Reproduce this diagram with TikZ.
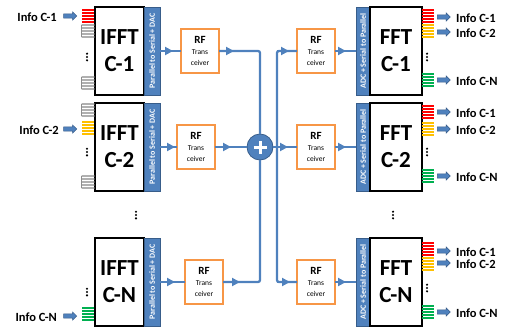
\documentclass[tikz,border=0pt]{standalone}
\usepackage{fontspec}
\setmainfont{Carlito}
\usetikzlibrary{arrows.meta,decorations.markings,shapes.arrows}
\definecolor{blu}{HTML}{4F81BD}
\definecolor{blud}{HTML}{385D8A}
\definecolor{orng}{HTML}{F79646}
\definecolor{redl}{HTML}{FF0000}
\definecolor{yell}{HTML}{FFC000}
\definecolor{grn}{HTML}{00B050}
\definecolor{gryl}{HTML}{B0B0B0}
\newcommand\mystack[4]{%
  \foreach \k in {0,...,4} {\draw[#1, line width=1.3pt] (#2,#4+3*\k) -- (#3,#4+3*\k);}}
\newcommand\mygray[3]{%
  \foreach \k in {0,...,4} {\draw[gryl, line width=1.3pt, line cap=round] (#1,#3+3*\k) -- (#2,#3+3*\k);}
  \draw[gryl!80!black, line width=0.5pt] (#1-0.6,#3) -- (#1-0.6,#3+12);}
\newcommand\mydots[2]{%
  \foreach \k in {-1,0,1} {\fill (#1,#2+3.3*\k) circle (1.2pt);}}
\begin{document}
\begin{tikzpicture}[x=1pt,y=-1pt,
  bigbox/.style={draw=black, line width=1.2pt, fill=white, inner sep=0pt, outer sep=0pt, anchor=north west, align=center, font=\bfseries\fontsize{23}{27}\selectfont},
  stripbox/.style={draw=blud, line width=0.6pt, fill=blu, inner sep=0pt, outer sep=0pt, anchor=north west},
  striptext/.style={rotate=90, text=white, font=\bfseries\fontsize{8}{8}\selectfont, inner sep=0pt},
  rfbox/.style={draw=orng, line width=1.6pt, fill=white, minimum width=38pt, minimum height=44pt, inner sep=0pt, outer sep=0pt, align=center},
  sig/.style={draw=blu, line width=2.3pt, rounded corners=2pt},
  tipat/.style={postaction={decorate}, decoration={markings, mark=at position #1 with {\arrow[blu]{Triangle[length=8pt,width=8pt]}}}},
  barrow/.style={single arrow, draw=blud, fill=blu, line width=0.5pt, minimum height=13pt, inner sep=1.8pt, single arrow head extend=2pt},
  info/.style={font=\bfseries\fontsize{12.5}{14}\selectfont, inner sep=0pt},
  sumnode/.style={circle, fill=blu, draw=blud, line width=0.8pt, minimum size=26pt, inner sep=0pt, outer sep=0pt}
]
\useasboundingbox (0,0) rectangle (508,329);
\newcommand\rftext{{\fontsize{11}{11}\bfseries RF}\\[-1pt]{\fontsize{7.5}{8}\selectfont Trans}\\[-1.5pt]{\fontsize{7.5}{8}\selectfont ceiver}}

% IFFT blocks
\node[bigbox, minimum width=49pt, minimum height=88pt] (i1) at (95,7) {IFFT\\C-1};
\node[stripbox, minimum width=16pt, minimum height=88pt] (s1) at (144,7) {};
\node[striptext] at (s1.center) {Parallel to Serial + DAC};
\node[bigbox, minimum width=49pt, minimum height=88pt] (i2) at (95,103) {IFFT\\C-2};
\node[stripbox, minimum width=16pt, minimum height=88pt] (s2) at (144,103) {};
\node[striptext] at (s2.center) {Parallel to Serial + DAC};
\node[bigbox, minimum width=49pt, minimum height=88pt] (i3) at (95,238) {IFFT\\C-N};
\node[stripbox, minimum width=16pt, minimum height=88pt] (s3) at (144,238) {};
\node[striptext] at (s3.center) {Parallel to Serial + DAC};

% FFT blocks
\node[stripbox, minimum width=14pt, minimum height=88pt] (f1s) at (356,7) {};
\node[striptext] at (f1s.center) {ADC + Serial to Parallel};
\node[bigbox, minimum width=52pt, minimum height=88pt] (f1) at (370,7) {FFT\\C-1};
\node[stripbox, minimum width=14pt, minimum height=88pt] (f2s) at (356,103) {};
\node[striptext] at (f2s.center) {ADC + Serial to Parallel};
\node[bigbox, minimum width=52pt, minimum height=88pt] (f2) at (370,103) {FFT\\C-2};
\node[stripbox, minimum width=14pt, minimum height=88pt] (f3s) at (356,238) {};
\node[striptext] at (f3s.center) {ADC + Serial to Parallel};
\node[bigbox, minimum width=52pt, minimum height=88pt] (f3) at (370,238) {FFT\\C-N};

% RF transceivers
\node[rfbox] (r1) at (200,51) {\rftext};
\node[rfbox] (r2) at (196,147) {\rftext};
\node[rfbox] (r3) at (204,282) {\rftext};
\node[rfbox] (q1) at (316,51) {\rftext};
\node[rfbox] (q2) at (316,147) {\rftext};
\node[rfbox] (q3) at (316,282) {\rftext};

% summing node
\node[sumnode] (sum) at (260,147) {};
\coordinate (bt) at (277,51);
\coordinate (bb) at (277,282);

% left connectors
\draw[sig, tipat=13pt] (s1.east) -- (r1.west);
\draw[sig, tipat=15pt] (r1.east) -| (sum.north);
\draw[sig, tipat=15pt] (s2.east) -- (r2.west);
\draw[sig, tipat=16pt] (r2.east) -- (sum.west);
\draw[sig, tipat=15pt] (s3.east) -- (r3.west);
\draw[sig, tipat=17pt] (r3.east) -| (sum.south);

% right connectors
\draw[sig] (q1.west) -- (bt) -- (bb) -- (q3.west);
\draw[sig, tipat=12pt] (bt) -- (q1.west);
\draw[sig, tipat=15pt] (sum.east) -- (q2.west);
\draw[sig, tipat=13pt] (bb) -- (q3.west);
\draw[sig, tipat=11pt] (q1.east) -- (f1s.west);
\draw[sig, tipat=11pt] (q2.east) -- (f2s.west);
\draw[sig, tipat=11pt] (q3.east) -- (f3s.west);

% plus sign
\draw[white, line width=3pt] ([xshift=-6.5pt]sum.center) -- ([xshift=6.5pt]sum.center);
\draw[white, line width=3pt] ([yshift=-6.5pt]sum.center) -- ([yshift=6.5pt]sum.center);

% left input stacks
\mystack{redl}{82}{94}{10}
\mygray{82}{94}{25}
\mydots{87}{57}
\mygray{82}{94}{77}

\mygray{82}{94}{104}
\mystack{yell}{82}{94}{122}
\mydots{87}{152}
\mygray{82}{94}{176}

\mydots{87}{292}
\mystack{grn}{82}{94}{308}

% right output stacks
\mystack{redl}{422}{434}{10}
\mystack{yell}{422}{434}{25}
\mydots{427}{57}
\mystack{grn}{422}{434}{74}

\mystack{redl}{422}{434}{106}
\mystack{yell}{422}{434}{123}
\mydots{427}{152}
\mystack{grn}{422}{434}{170}

\mystack{redl}{422}{434}{243}
\mystack{yell}{422}{434}{258}
\mydots{427}{288}
\mystack{grn}{422}{434}{306}

% middle dots
\mydots{136}{215}
\mydots{393}{215}

% input arrows and labels
\node[barrow, anchor=tip] (a1) at (77,16) {};
\node[info, anchor=east] (l1) at (57,17) {Info C-1};
\node[barrow, anchor=tip] (a2) at (77,129) {};
\node[info, anchor=east] (l2) at (59,130) {Info C-2};
\node[barrow, anchor=tip] (a3) at (77,316) {};
\node[info, anchor=east] (l3) at (57,317) {Info C-N};

% output arrows and labels
\foreach \y/\t [count=\n] in {17/Info C-1, 32/Info C-2, 80/Info C-N,
                  112/Info C-1, 129/Info C-2, 176/Info C-N,
                  251/Info C-1, 263/Info C-2, 312/Info C-N} {
  \node[barrow, anchor=tail] (b\n) at (437,\y) {};
  \node[info, anchor=west] (o\n) at (456,\y+1) {\t};
}
\end{tikzpicture}
\end{document}
